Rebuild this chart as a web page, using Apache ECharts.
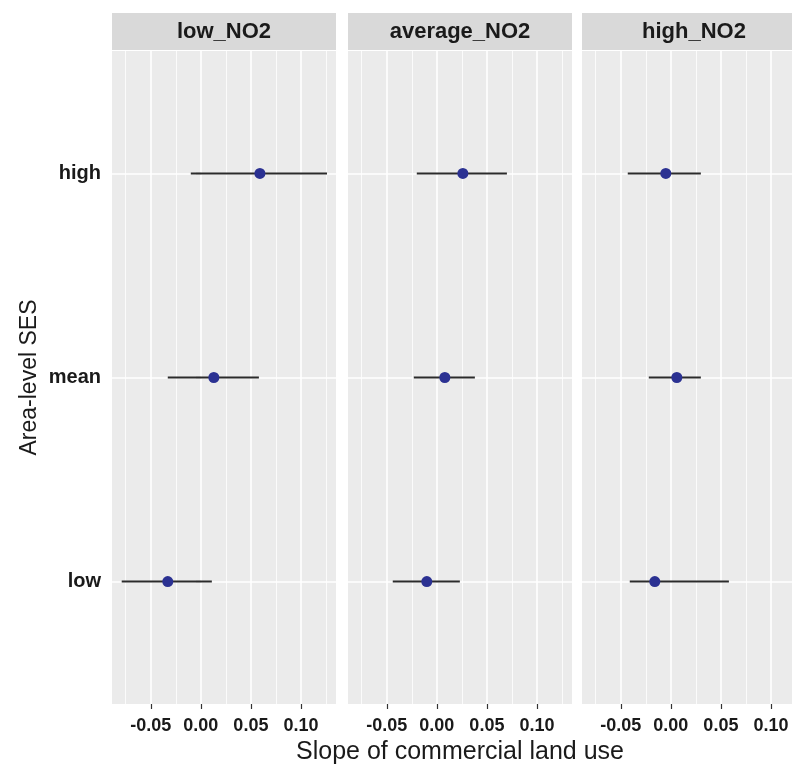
<!DOCTYPE html>
<html>
<head>
<meta charset="utf-8">
<script src="https://cdn.jsdelivr.net/npm/echarts@6/dist/echarts.min.js"></script>
<style>
  html, body { margin: 0; padding: 0; background: #fff; }
  #chart { width: 792px; height: 765px; }
</style>
</head>
<body>
<div id="chart"></div>
<script>
// Area-level SES categories, bottom to top
const categories = ['low', 'mean', 'high']
const panels = ['low_NO2', 'average_NO2', 'high_NO2']
const xTicks = [-0.05, 0.00, 0.05, 0.10]
const xMinor = [-0.075, -0.025, 0.025, 0.075, 0.125]

// slope estimates and interval ends, one entry per category
const lowNO2Est = [-0.033, 0.013, 0.059]
const lowNO2Lo = [-0.079, -0.033, -0.010]
const lowNO2Hi = [0.011, 0.058, 0.126]

const avgNO2Est = [-0.010, 0.008, 0.026]
const avgNO2Lo = [-0.044, -0.023, -0.020]
const avgNO2Hi = [0.023, 0.038, 0.070]

const highNO2Est = [-0.016, 0.006, -0.005]
const highNO2Lo = [-0.041, -0.022, -0.043]
const highNO2Hi = [0.058, 0.030, 0.030]

const est = [lowNO2Est, avgNO2Est, highNO2Est]
const lo = [lowNO2Lo, avgNO2Lo, highNO2Lo]
const hi = [lowNO2Hi, avgNO2Hi, highNO2Hi]

const font = 'Liberation Sans, Arial, sans-serif'
const panelLeft = [112, 348, 582]
const panelW = 224
const panelTop = 51
const panelBottom = 61
const xMin = -0.0887
const xMax = 0.135

const chart = echarts.init(document.getElementById('chart'))

const grid = []
const xAxis = []
const yAxis = []
const series = []
const graphic = []

panels.forEach(function (name, i) {
  grid.push({
    left: panelLeft[i], top: panelTop, width: panelW, bottom: panelBottom,
    outerBoundsMode: 'none', containLabel: false,
    show: true, backgroundColor: '#ebebeb', borderWidth: 0
  })
  // main x axis: labels, ticks, major grid lines
  xAxis.push({
    type: 'value', gridIndex: i, min: xMin, max: xMax,
    axisLine: { show: false },
    axisTick: { show: true, length: 5, customValues: xTicks, lineStyle: { color: '#333', width: 1.2 } },
    axisLabel: {
      customValues: xTicks, margin: 13, color: '#1a1a1a', fontFamily: font,
      fontWeight: 'bold', fontSize: 18,
      formatter: function (v) { return (Math.abs(v) < 1e-9 ? 0 : v).toFixed(2) }
    },
    splitLine: { show: true, lineStyle: { color: '#fff', width: 1.6 } },
    name: i === 1 ? 'Slope of commercial land use' : '',
    nameLocation: 'middle', nameGap: 35,
    nameTextStyle: { fontFamily: font, fontSize: 25, color: '#1a1a1a' }
  })
  // second x axis only for the minor grid lines
  xAxis.push({
    type: 'value', gridIndex: i, min: xMin, max: xMax,
    axisLine: { show: false },
    axisTick: { show: false, customValues: xMinor },
    axisLabel: { show: false },
    splitLine: { show: true, lineStyle: { color: '#fff', width: 0.8 } }
  })
  yAxis.push({
    type: 'value', gridIndex: i, min: 0.4, max: 3.6,
    axisLine: { show: false },
    axisTick: { show: i === 0, length: 5, customValues: [1, 2, 3], lineStyle: { color: '#333', width: 1.2 } },
    axisLabel: {
      show: i === 0, customValues: [1, 2, 3], margin: 11, color: '#1a1a1a',
      fontFamily: font, fontWeight: 'bold', fontSize: 20,
      formatter: function (v) { return categories[Math.round(v) - 1] }
    },
    splitLine: { show: true, lineStyle: { color: '#fff', width: 1.6 } },
    name: i === 0 ? 'Area-level SES' : '',
    nameLocation: 'middle', nameGap: 71, nameRotate: 90,
    nameTextStyle: { fontFamily: font, fontSize: 23, color: '#1a1a1a' }
  })

  // error bars
  series.push({
    type: 'custom',
    xAxisIndex: i * 2, yAxisIndex: i,
    encode: { x: [0, 1], y: 2 },
    data: categories.map(function (c, k) { return [lo[i][k], hi[i][k], k + 1] }),
    renderItem: function (params, api) {
      const y = api.value(2)
      const a = api.coord([api.value(0), y])
      const b = api.coord([api.value(1), y])
      return {
        type: 'line',
        shape: { x1: a[0], y1: a[1], x2: b[0], y2: b[1] },
        style: { stroke: '#2b2b2b', lineWidth: 2 }
      }
    },
    silent: true
  })
  // point estimates
  series.push({
    type: 'scatter',
    xAxisIndex: i * 2, yAxisIndex: i,
    data: categories.map(function (c, k) { return [est[i][k], k + 1] }),
    symbolSize: 11,
    itemStyle: { color: '#2b3192', opacity: 1 },
    z: 5
  })

  // facet strip
  graphic.push({
    type: 'rect',
    shape: { x: panelLeft[i], y: 13, width: panelW, height: 37 },
    style: { fill: '#d9d9d9' }
  })
  graphic.push({
    type: 'text',
    x: panelLeft[i] + panelW / 2, y: 32,
    style: {
      text: name, fill: '#1a1a1a', font: 'bold 22px ' + font,
      textAlign: 'center', textVerticalAlign: 'middle'
    }
  })
})

chart.setOption({
  backgroundColor: '#fff',
  animation: false,
  grid: grid,
  xAxis: xAxis,
  yAxis: yAxis,
  series: series,
  graphic: graphic
})
</script>
</body>
</html>
